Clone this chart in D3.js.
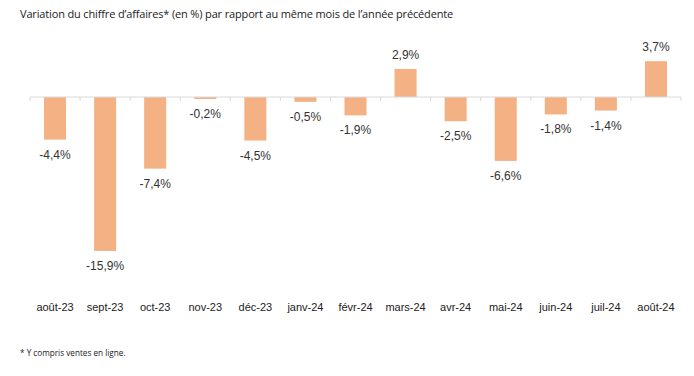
<!DOCTYPE html>
<html>
<head>
<meta charset="utf-8">
<script src="https://cdn.jsdelivr.net/npm/d3@7"></script>
<style>
  body { margin: 0; background: #fff; }
  svg { display: block; }
</style>
</head>
<body>
<div id="chart"></div>
<script>
const months = ["août-23", "sept-23", "oct-23", "nov-23", "déc-23", "janv-24", "févr-24", "mars-24", "avr-24", "mai-24", "juin-24", "juil-24", "août-24"];
const values = [-4.4, -15.9, -7.4, -0.2, -4.5, -0.5, -1.9, 2.9, -2.5, -6.6, -1.8, -1.4, 3.7];
const title = "Variation du chiffre d’affaires* (en %) par rapport au même mois de l’année précédente";
const footnote = "* Y compris ventes en ligne.";

const width = 694, height = 376;
const svg = d3.select("#chart").append("svg")
  .attr("width", width)
  .attr("height", height);

const x = d3.scaleBand()
  .domain(months)
  .range([30, 681])
  .paddingInner(0.56)
  .paddingOuter(0.28);

const y = d3.scaleLinear()
  .domain([-16, 4])
  .range([251.9, 58.3]);

const fmt = v => d3.format(".1f")(v).replace("−", "-").replace(".", ",") + "%";

// title
svg.append("text")
  .attr("x", 20).attr("y", 18)
  .style("font-family", "'Open Sans', sans-serif")
  .style("font-size", "11px")
  .style("letter-spacing", "-0.15px")
  .attr("fill", "#222")
  .text(title);

// bars
svg.append("g")
  .selectAll("rect")
  .data(values)
  .enter().append("rect")
    .attr("x", (d, i) => x(months[i]))
    .attr("width", x.bandwidth())
    .attr("y", d => y(Math.max(0, d)))
    .attr("height", d => Math.abs(y(d) - y(0)))
    .attr("fill", "#F4B183");

// zero axis with ticks between categories
const axis = svg.append("g").attr("stroke", "#D9D9D9").attr("stroke-width", 1);
axis.append("line")
  .attr("x1", 30).attr("x2", 681)
  .attr("y1", y(0)).attr("y2", y(0));
axis.selectAll("line.tick")
  .data(d3.range(months.length + 1))
  .enter().append("line")
    .attr("class", "tick")
    .attr("x1", i => 30 + i * (651 / months.length))
    .attr("x2", i => 30 + i * (651 / months.length))
    .attr("y1", y(0)).attr("y2", y(0) + 4);

// value labels
svg.append("g")
  .selectAll("text")
  .data(values)
  .enter().append("text")
    .attr("x", (d, i) => x(months[i]) + x.bandwidth() / 2)
    .attr("y", d => d < 0 ? y(d) + 19 : y(d) - 10)
    .attr("text-anchor", "middle")
    .style("font-family", "'Liberation Sans', Arial, sans-serif")
    .style("font-size", "12px")
    .attr("fill", "#333")
    .text(fmt);

// category labels
svg.append("g")
  .selectAll("text")
  .data(months)
  .enter().append("text")
    .attr("x", d => x(d) + x.bandwidth() / 2)
    .attr("y", 311)
    .attr("text-anchor", "middle")
    .style("font-family", "'Liberation Sans', Arial, sans-serif")
    .style("font-size", "11px")
    .attr("fill", "#222")
    .text(d => d);

// footnote
svg.append("text")
  .attr("x", 20).attr("y", 356)
  .style("font-family", "'Open Sans', sans-serif")
  .style("font-size", "8.2px")
  .attr("fill", "#222")
  .text(footnote);
</script>
</body>
</html>
